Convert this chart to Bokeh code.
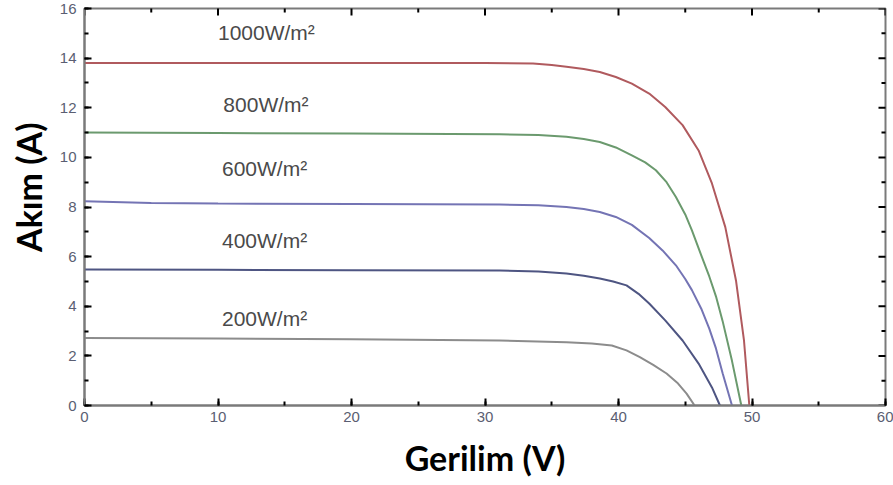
import math
from bokeh.plotting import figure
from bokeh.models import Range1d, Label, SingleIntervalTicker, Title
from bokeh.embed import file_html
from bokeh.resources import INLINE

# I-V characteristic of a PV module at five irradiance levels
irradiance_labels = ["1000W/m²", "800W/m²", "600W/m²", "400W/m²", "200W/m²"]

v_1000 = [0, 10, 20, 30, 33.6, 35, 36.1, 37.4, 38.6, 39.8, 41.0, 42.3, 43.5, 44.8, 46.0, 47.0, 48.0, 48.8, 49.4, 49.8]
i_1000 = [13.8, 13.8, 13.8, 13.8, 13.78, 13.72, 13.65, 13.56, 13.44, 13.24, 12.97, 12.57, 12.03, 11.3, 10.28, 8.95, 7.19, 5.04, 2.62, 0.0]

v_800 = [0, 10, 20, 31.1, 34, 36.1, 37.4, 38.6, 39.8, 41.0, 42.0, 42.8, 43.6, 44.3, 45.0, 45.5, 46.2, 46.8, 47.3, 47.8, 48.5, 49.2]
i_800 = [11.0, 10.98, 10.96, 10.93, 10.9, 10.83, 10.74, 10.62, 10.4, 10.08, 9.8, 9.48, 9.0, 8.4, 7.7, 7.06, 6.05, 5.2, 4.4, 3.4, 1.8, 0.0]

v_600 = [0, 5, 10, 20, 31.1, 34, 36.1, 37.4, 38.6, 39.8, 41.0, 42.3, 43.3, 44.3, 45.0, 45.5, 46.2, 46.8, 47.3, 47.8, 48.5]
i_600 = [8.23, 8.16, 8.14, 8.12, 8.1, 8.07, 8.0, 7.92, 7.8, 7.6, 7.28, 6.75, 6.25, 5.65, 5.1, 4.65, 3.9, 3.1, 2.3, 1.3, 0.0]

v_400 = [0, 10, 20, 31.1, 34, 36.1, 37.4, 38.6, 39.6, 40.6, 41.5, 42.3, 43.5, 44.8, 46.0, 47.0, 47.6]
i_400 = [5.48, 5.47, 5.45, 5.44, 5.4, 5.32, 5.23, 5.12, 5.0, 4.84, 4.5, 4.11, 3.43, 2.62, 1.69, 0.73, 0.0]

v_200 = [0, 10, 20, 31.1, 36.1, 38, 39.5, 40.6, 41.6, 42.6, 43.6, 44.4, 45.1, 45.7]
i_200 = [2.72, 2.7, 2.67, 2.62, 2.55, 2.5, 2.42, 2.22, 1.95, 1.64, 1.29, 0.92, 0.48, 0.0]

x_major_ticks = [0, 10, 20, 30, 40, 50, 60]
x_minor_ticks = [5, 15, 25, 35, 45, 55]
y_major_ticks = [0, 2, 4, 6, 8, 10, 12, 14, 16]
y_minor_ticks = [1, 3, 5, 7, 9, 11, 13, 15]

X_MAX, Y_MAX = 60, 16

series = [
    (v_1000, i_1000, "#b05a5e"),
    (v_800, i_800, "#6b9a6e"),
    (v_600, i_600, "#7474b4"),
    (v_400, i_400, "#4e5582"),
    (v_200, i_200, "#8c8c8c"),
]

# label anchors (V, A) placed above each curve
label_anchor = [(10.0, 15.05), (10.4, 12.15), (10.3, 9.56), (10.3, 6.65), (10.3, 3.5)]

p = figure(width=893, height=485, output_backend="svg", toolbar_location=None,
           x_range=Range1d(0, X_MAX), y_range=Range1d(0, Y_MAX),
           min_border_left=84, min_border_right=8, min_border_top=8, min_border_bottom=80)
p.grid.visible = False
p.outline_line_color = "#7a7a7a"
p.outline_line_width = 2
p.background_fill_color = "white"
p.border_fill_color = "white"

for xs, ys, col in series:
    p.line(xs, ys, line_color=col, line_width=2)

for (lx, ly), txt in zip(label_anchor, irradiance_labels):
    p.add_layout(Label(x=lx, y=ly, text=txt, text_baseline="middle",
                       text_font="Liberation Sans", text_font_size="21px",
                       text_color="#4a4a4a"))

# mirrored inward ticks on the top and right frame edges (half of each dash is clipped)
p.scatter(x_major_ticks, [Y_MAX] * len(x_major_ticks), marker="dash", size=14,
          angle=math.pi / 2, line_color="black", line_width=2)
p.scatter(x_minor_ticks, [Y_MAX] * len(x_minor_ticks), marker="dash", size=8,
          angle=math.pi / 2, line_color="black", line_width=2)
p.scatter([X_MAX] * len(y_major_ticks), y_major_ticks, marker="dash", size=14,
          line_color="black", line_width=2)
p.scatter([X_MAX] * len(y_minor_ticks), y_minor_ticks, marker="dash", size=8,
          line_color="black", line_width=2)


def style_axis(ax):
    ax.axis_line_color = "#7a7a7a"
    ax.axis_line_width = 2
    ax.major_tick_line_color = "black"
    ax.minor_tick_line_color = "black"
    ax.major_tick_line_width = 2
    ax.minor_tick_line_width = 2
    ax.major_tick_in = 7
    ax.major_tick_out = 0
    ax.minor_tick_in = 4
    ax.minor_tick_out = 0
    ax.major_label_text_font = "Liberation Sans"
    ax.major_label_text_font_size = "15px"
    ax.major_label_text_color = "#5a5e72"
    ax.axis_label_text_font = "Lato"
    ax.axis_label_text_font_style = "bold"
    ax.axis_label_text_font_size = "34px"
    ax.axis_label_text_color = "black"


xa = p.xaxis[0]
xa.ticker = SingleIntervalTicker(interval=10, num_minor_ticks=2)
xa.axis_label = "Gerilim (V)"
style_axis(xa)
xa.major_label_standoff = 6
xa.axis_label_standoff = 12

ya = p.yaxis[0]
ya.ticker = SingleIntervalTicker(interval=2, num_minor_ticks=2)
style_axis(ya)
ya.major_label_standoff = 8

# vertical axis title, its upper end set 114 px below the frame top
ytitle = Title(text="Akım (A)", align="right", offset=114, standoff=12,
               vertical_align="top",
               text_font="Lato", text_font_style="bold", text_font_size="34px",
               text_color="black")
p.add_layout(ytitle, "left")

open("out.html", "w").write(file_html(p, INLINE))
